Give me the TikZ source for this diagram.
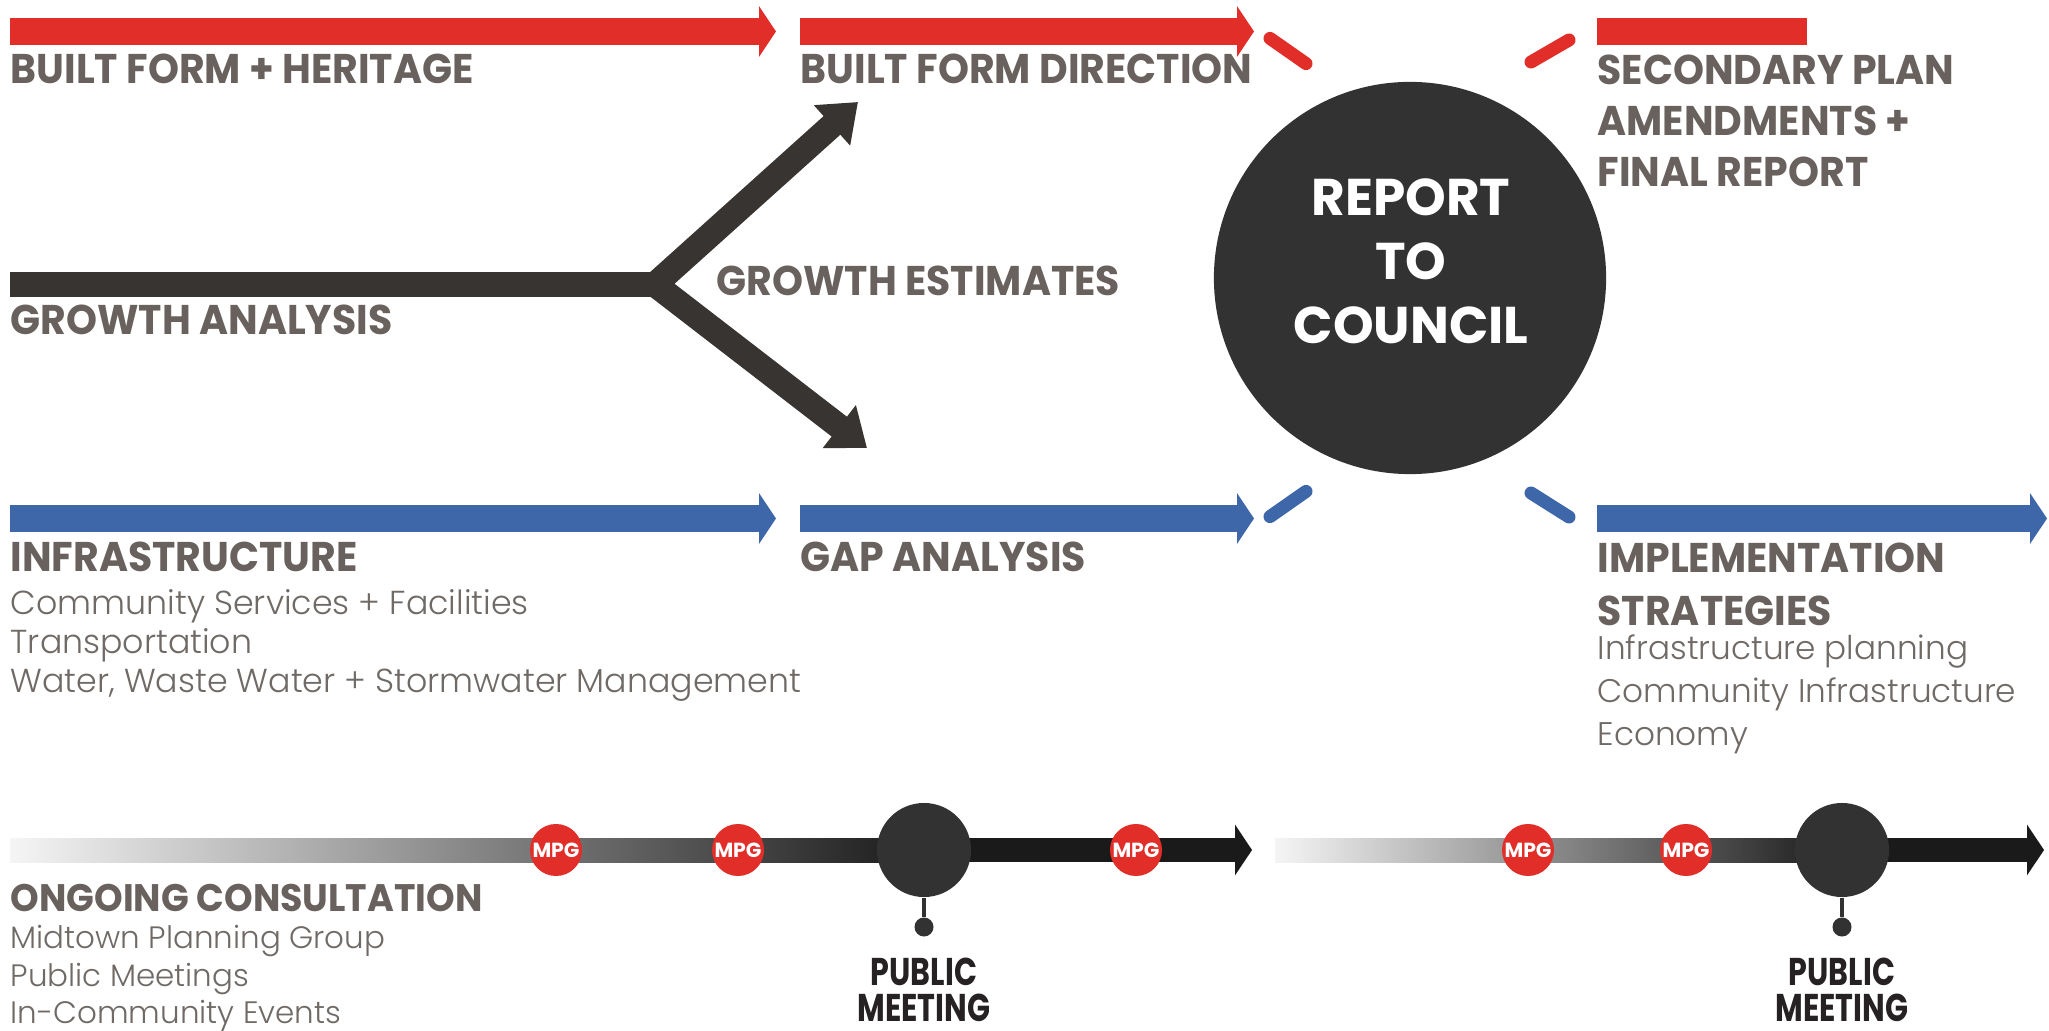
\documentclass[tikz,border=0pt]{standalone}
\usepackage{fontspec}
\setmainfont{Poppins}
\IfFontExistsTF{Poppins Light}{\newfontfamily\subfont{Poppins Light}}{\newfontfamily\subfont{Poppins}}
\newfontfamily\hdrfont[FakeStretch=0.95]{Poppins}
\newfontfamily\condfont[FakeStretch=0.78]{Poppins}
\usetikzlibrary{arrows.meta,shapes.geometric}
\definecolor{redc}{RGB}{226,46,40}
\definecolor{bluec}{RGB}{62,103,170}
\definecolor{darkc}{RGB}{56,52,50}
\definecolor{circc}{RGB}{50,50,50}
\definecolor{hdrc}{RGB}{104,97,93}
\definecolor{subc}{RGB}{112,106,102}
\definecolor{pmc}{RGB}{38,34,35}
\definecolor{tlc}{RGB}{26,26,26}
\newcommand\mytop[1]{\rule{0pt}{#1}}
\tikzset{
  hdr/.style={inner sep=0pt, text=hdrc, font=\hdrfont\bfseries\fontsize{11.8}{14.5}\selectfont, align=left},
  subt/.style={inner sep=0pt, text=subc, font=\subfont\fontsize{9.45}{11.1}\selectfont, align=left},
  redbar/.style={draw=redc, line width=0.27cm},
  bluebar/.style={draw=bluec, line width=0.27cm},
  flattip/.style={-{Triangle[length=0.17cm,width=0.5cm]}},
  growline/.style={draw=darkc, line width=0.25cm},
  dashseg/.style={line width=0.13cm, line cap=round},
  mpg/.style={circle, fill=redc, minimum size=0.52cm, inner sep=0pt, text=white, font=\bfseries\fontsize{5.8}{6}\selectfont},
  pmcirc/.style={circle, fill=circc, minimum size=0.94cm, inner sep=0pt},
  pmdot/.style={circle, fill=circc, minimum size=0.19cm, inner sep=0pt},
  pmtext/.style={inner sep=0pt, align=center, text=pmc, font=\condfont\bfseries\fontsize{11}{10.2}\selectfont},
  tlsolid/.style={draw=tlc, line width=0.24cm, -{Triangle[length=0.17cm,width=0.5cm]}},
}
\begin{document}
\begin{tikzpicture}[x=0.01cm,y=-0.01cm]
\useasboundingbox (0,0) rectangle (2049,1031);
\fill[white] (0,0) rectangle (2049,1031);

% red row
\coordinate (r1s) at (10,31.5);   \coordinate (r1e) at (776,31.5);
\coordinate (r2s) at (800,31.5);  \coordinate (r2e) at (1254,31.5);
\coordinate (r3s) at (1597,31.5); \coordinate (r3e) at (1807,31.5);
\draw[redbar, flattip] (r1s) -- (r1e);
\draw[redbar, flattip] (r2s) -- (r2e);
\draw[redbar] (r3s) -- (r3e);

% blue row
\coordinate (b1s) at (10,518.5);   \coordinate (b1e) at (776,518.5);
\coordinate (b2s) at (800,518.5);  \coordinate (b2e) at (1254,518.5);
\coordinate (b3s) at (1597,518.5); \coordinate (b3e) at (2047,518.5);
\draw[bluebar, flattip] (b1s) -- (b1e);
\draw[bluebar, flattip] (b2s) -- (b2e);
\draw[bluebar, flattip] (b3s) -- (b3e);

% dashes around the council circle
\coordinate (rdA1) at (1270,38.4);  \coordinate (rdA2) at (1306,63.6);
\coordinate (rdB1) at (1531,62);    \coordinate (rdB2) at (1569,40);
\coordinate (bdA1) at (1270,516.6); \coordinate (bdA2) at (1306,491.4);
\coordinate (bdB1) at (1531,493);   \coordinate (bdB2) at (1569,517);
\draw[dashseg, redc] (rdA1) -- (rdA2);
\draw[dashseg, redc] (rdB1) -- (rdB2);
\draw[dashseg, bluec] (bdA1) -- (bdA2);
\draw[dashseg, bluec] (bdB1) -- (bdB2);

% council
\node[circle, fill=circc, minimum size=3.92cm, inner sep=0pt] (council) at (1410,278) {};
\node[inner sep=0pt, align=center, text=white, font=\bfseries\fontsize{14.7}{18.2}\selectfont, anchor=north] (counciltext) at (1411,162.3) {\mytop{15pt}REPORT\\TO\\COUNCIL};

% growth
\coordinate (gs) at (10,284.5); \coordinate (gj) at (655,284.5);
\coordinate (gu) at (858,102);  \coordinate (gd) at (867,448);
\draw[growline] (gs) -- (gj);
\draw[growline, line join=miter, {Triangle[length=0.35cm,width=0.52cm]}-{Triangle[length=0.35cm,width=0.52cm]}] (gu) -- (gj) -- (gd);

% headings
\node[hdr, anchor=base west] (bfh) at (10,84) {BUILT FORM + HERITAGE};
\node[hdr, anchor=base west] (bfd) at (800,84) {BUILT FORM DIRECTION};
\node[hdr, anchor=north west] (spa) at (1597,41.8) {\mytop{12pt}SECONDARY PLAN\\AMENDMENTS +\\FINAL REPORT};
\node[hdr, anchor=base west] (gan) at (10,335) {GROWTH ANALYSIS};
\node[hdr, anchor=base west] (ges) at (716,296) {GROWTH ESTIMATES};
\node[hdr, anchor=base west] (inf) at (10,572) {INFRASTRUCTURE};
\node[subt, anchor=north west] (infs) at (10,578.85) {\mytop{10pt}Community Services + Facilities\\Transportation\\Water, Waste Water + Stormwater Management};
\node[hdr, anchor=base west] (gap) at (800,572) {GAP ANALYSIS};
\node[hdr, anchor=north west, font=\hdrfont\bfseries\fontsize{11.8}{15.1}\selectfont] (imp) at (1597,529.8) {\mytop{12pt}IMPLEMENTATION\\STRATEGIES};
\node[subt, anchor=north west, font=\subfont\fontsize{9.3}{12.2}\selectfont] (imps) at (1597,623.85) {\mytop{10pt}Infrastructure planning\\Community Infrastructure\\Economy};
\node[hdr, anchor=base west, font=\hdrfont\bfseries\fontsize{10.9}{13}\selectfont] (ong) at (10,911) {ONGOING CONSULTATION};
\node[subt, anchor=north west, font=\subfont\fontsize{8.8}{10.7}\selectfont] (ongs) at (10,912.85) {\mytop{10pt}Midtown Planning Group\\Public Meetings\\In-Community Events};

% timelines
\shade[left color=black!4, right color=tlc] (10,838) rectangle (924,862);
\coordinate (t1m) at (924,850); \coordinate (t1e) at (1252,850);
\draw[tlsolid] (t1m) -- (t1e);
\shade[left color=black!4, right color=tlc] (1275,838) rectangle (1842,862);
\coordinate (t2m) at (1842,850); \coordinate (t2e) at (2044,850);
\draw[tlsolid] (t2m) -- (t2e);

\node[mpg] (m1) at (556,850) {MPG};
\node[mpg] (m2) at (738,850) {MPG};
\node[mpg] (m3) at (1136,850) {MPG};
\node[mpg] (m4) at (1528,850) {MPG};
\node[mpg] (m5) at (1686,850) {MPG};

\node[pmcirc] (pm1) at (924,850) {};
\node[pmdot] (pd1) at (924,927) {};
\draw[circc, line width=0.04cm] (pm1.south) -- (pd1.north);
\node[pmtext, anchor=north] (pt1) at (924,950) {\mytop{10pt}PUBLIC\\MEETING};

\node[pmcirc] (pm2) at (1842,850) {};
\node[pmdot] (pd2) at (1842,927) {};
\draw[circc, line width=0.04cm] (pm2.south) -- (pd2.north);
\node[pmtext, anchor=north] (pt2) at (1842,950) {\mytop{10pt}PUBLIC\\MEETING};
\end{tikzpicture}
\end{document}
